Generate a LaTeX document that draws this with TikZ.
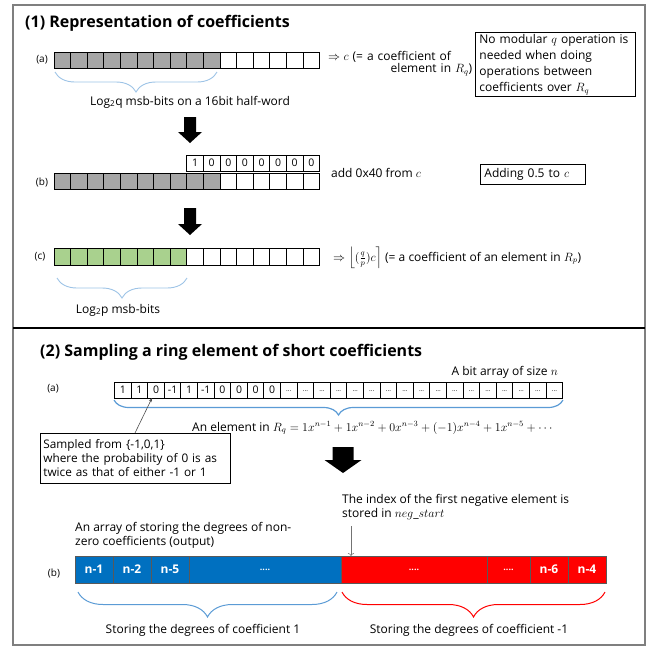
\documentclass[tikz,border=0pt]{standalone}
\usepackage{amsmath}
\usepackage{fontspec}
\setmainfont{Open Sans}
\usetikzlibrary{decorations.pathreplacing,arrows.meta,calc}
\definecolor{cellgray}{HTML}{A6A6A6}
\definecolor{cellgreen}{HTML}{A9D18E}
\definecolor{lightbrace}{HTML}{9DC3E6}
\definecolor{midbrace}{HTML}{5B9BD5}
\definecolor{barblue}{HTML}{0070C0}
\definecolor{barred}{HTML}{FF0000}
\definecolor{framegray}{HTML}{7F7F7F}
\tikzset{
  cell/.style={draw=black, line width=0.9pt, minimum width=16.6pt, minimum height=16pt, inner sep=0pt, outer sep=0pt, font=\fontsize{10.5}{12}\selectfont},
  scell/.style={draw=black, line width=0.9pt, minimum width=16.6pt, minimum height=16pt, inner sep=0pt, outer sep=0pt, font=\fontsize{10.5}{12}\selectfont},
  lbl/.style={font=\fontsize{10}{12}\selectfont, inner sep=0pt},
  txt/.style={font=\fontsize{12}{14}\selectfont, inner sep=0pt},
  ttl/.style={font=\fontsize{16}{20}\selectfont\bfseries, inner sep=0pt},
  brc/.style={decorate, decoration={brace, mirror, amplitude=#1}, line width=0.9pt},
  barseg/.style={draw=black!65, line width=0.6pt, minimum height=27pt, inner sep=0pt, outer sep=0pt, anchor=west, text=white, font=\fontsize{12}{14}\selectfont\bfseries},
  bigarrow/.style={fill=black},
}
\begin{document}
\begin{tikzpicture}[x=1pt,y=-1pt]
\useasboundingbox (0,0) rectangle (653,646);
\draw[framegray, line width=1.2pt] (13,5) rectangle (645,645);

% ---------- Section 1 ----------
\node[ttl, anchor=base west] (t1) at (25,27) {(1) Representation of coefficients};

% row (a)
\node[lbl] (la) at (42,60) {(a)};
\foreach \i in {0,...,15}{
  \ifnum\i<10 \def\fc{cellgray}\else\def\fc{white}\fi
  \node[cell, fill=\fc] (ra\i) at ({54+16.6*\i+8.3},60) {};
}
\draw[brc=20, draw=lightbrace] (55,72) -- (217,72);
\node[txt] (capa) at (190,102) {Log\textsubscript{2}q msb-bits on a 16bit half-word};
\node[txt, align=left, anchor=north west, text width=144pt, font=\fontsize{12}{12}\selectfont] (coefa) at (328,51) {$\Rightarrow c$ (= a coefficient of\\\hspace*{\fill}element in $R_q$)};
\node[draw, line width=0.8pt, align=left, anchor=north west, text width=152pt, inner xsep=4pt, inner ysep=2pt, minimum height=64pt, font=\fontsize{12}{16}\selectfont] (nomod) at (475,32) {No modular $q$ operation is\\needed when doing\\operations between\\coefficients over $R_q$};

\fill[bigarrow] (184,117) -- (196,117) -- (196,132) -- (202,132) -- (190,143) -- (178,132) -- (184,132) -- cycle;

% row (b)
\foreach \v [count=\k from 8] in {1,0,0,0,0,0,0,0}{
  \node[cell, fill=white] (rt\k) at ({54+16.6*\k+8.3},163) {\v};
}
\node[lbl] (lb) at (42,182) {(b)};
\foreach \i in {0,...,15}{
  \ifnum\i<10 \def\fc{cellgray}\else\def\fc{white}\fi
  \node[cell, fill=\fc, minimum height=16.5pt] (rb\i) at ({54+16.6*\i+8.3},181.5) {};
}
\node[txt, anchor=west] (addc) at (331,173) {add 0x40 from $c$};
\node[draw, line width=0.8pt, txt, anchor=west, text width=97pt, inner xsep=4pt, minimum height=20pt, align=left] (half) at (480,174) {Adding 0.5 to $c$};

\fill[bigarrow] (184,208) -- (196,208) -- (196,224) -- (202,224) -- (190,235) -- (178,224) -- (184,224) -- cycle;

% row (c)
\node[lbl] (lc) at (40,257) {(c)};
\foreach \i in {0,...,15}{
  \ifnum\i<8 \def\fc{cellgreen}\else\def\fc{white}\fi
  \node[cell, fill=\fc, minimum height=17pt] (rc\i) at ({54+16.6*\i+8.3},257) {};
}
\node[txt, anchor=west] (coefc) at (333,258) {$\Rightarrow \left\lfloor (\tfrac{q}{p})c \right\rceil$ (= a coefficient of an element in $R_p$)};
\draw[brc=20, draw=lightbrace] (57,278) -- (187,278);
\node[txt] (capc) at (118,310) {Log\textsubscript{2}p msb-bits};

% divider
\draw[line width=2.5pt] (13,328) -- (645,328);

% ---------- Section 2 ----------
\node[ttl, anchor=base west] (t2) at (40,356) {(2) Sampling a ring element of short coefficients};
\node[lbl] (l2a) at (53,389) {(a)};
\node[txt, anchor=east] (bitarr) at (558,372) {A bit array of size $n$};
\foreach \v [count=\k from 0] in {1,1,0,-1,1,-1,0,0,0,0}{
  \node[scell] (s\k) at ({114.5+16.6*\k+8.3},390) {\v};
}
\foreach \k in {10,...,26}{
  \node[scell, font=\fontsize{6.5}{6}\selectfont] (s\k) at ({114.5+16.6*\k+8.3},390) {\raisebox{-3pt}{...}};
}
\draw[brc=15, draw=midbrace, line width=1.2pt] (114,400) -- (563,400);
\node[txt, anchor=west] (elem) at (192,428) {An element in $R_q = 1x^{n-1} + 1x^{n-2} + 0x^{n-3} + (-1)x^{n-4} + 1x^{n-5} + \cdots$};
\node[draw, line width=0.8pt, align=left, anchor=north west, text width=184pt, inner xsep=3pt, inner ysep=2pt, minimum height=50pt, font=\fontsize{11.8}{14}\selectfont] (samp) at (40,433) {Sampled from \{-1,0,1\}\\where the probability of 0 is as\\twice as that of either -1 or 1};
\draw[-{Stealth[length=4pt,width=3pt]}, black!70, line width=0.6pt] ([xshift=95pt]samp.north west) -- ([xshift=-4pt]s2.south);

\fill[bigarrow] (332.5,447) -- (353.5,447) -- (353.5,460) -- (361.5,460) -- (343,473) -- (324.5,460) -- (332.5,460) -- cycle;

% row (b)
\node[txt, align=left, anchor=north west, font=\fontsize{12}{14}\selectfont] (arrtxt) at (75,522) {An array of storing the degrees of non-\\zero coefficients (output)};
\node[lbl] (l2b) at (54,573) {(b)};
\node[barseg, fill=barblue, minimum width=38pt] (b1) at (75,569.5) {n-1};
\node[barseg, fill=barblue, minimum width=38pt] (b2) at (b1.east) {n-2};
\node[barseg, fill=barblue, minimum width=38pt] (b3) at (b2.east) {n-5};
\node[barseg, fill=barblue, minimum width=152pt, font=\fontsize{9}{10}\selectfont\bfseries] (b4) at (b3.east) {....};
\node[barseg, fill=barred, minimum width=146pt, font=\fontsize{9}{10}\selectfont\bfseries] (r1) at (b4.east) {....};
\node[barseg, fill=barred, minimum width=43pt, font=\fontsize{9}{10}\selectfont\bfseries] (r2) at (r1.east) {....};
\node[barseg, fill=barred, minimum width=38pt] (r3) at (r2.east) {n-6};
\node[barseg, fill=barred, minimum width=38pt] (r4) at (r3.east) {n-4};

\node[txt, align=left, anchor=north west, font=\fontsize{12}{14}\selectfont] (negtxt) at (342,494) {The index of the first negative element is\\stored in $neg\_start$};
\coordinate (negtop) at (351,526);
\draw[->, black!55, line width=0.6pt] (negtop) -- ([xshift=10pt]r1.north west);

\draw[brc=25, draw=midbrace, line width=1pt] (78,592) -- (337,592);
\draw[brc=25, draw=barred, line width=1pt] (342,592) -- (605,592);
\node[txt] (st1) at (203,630) {Storing the degrees of coefficient 1};
\node[txt] (st2) at (469,630) {Storing the degrees of coefficient -1};
\end{tikzpicture}
\end{document}
